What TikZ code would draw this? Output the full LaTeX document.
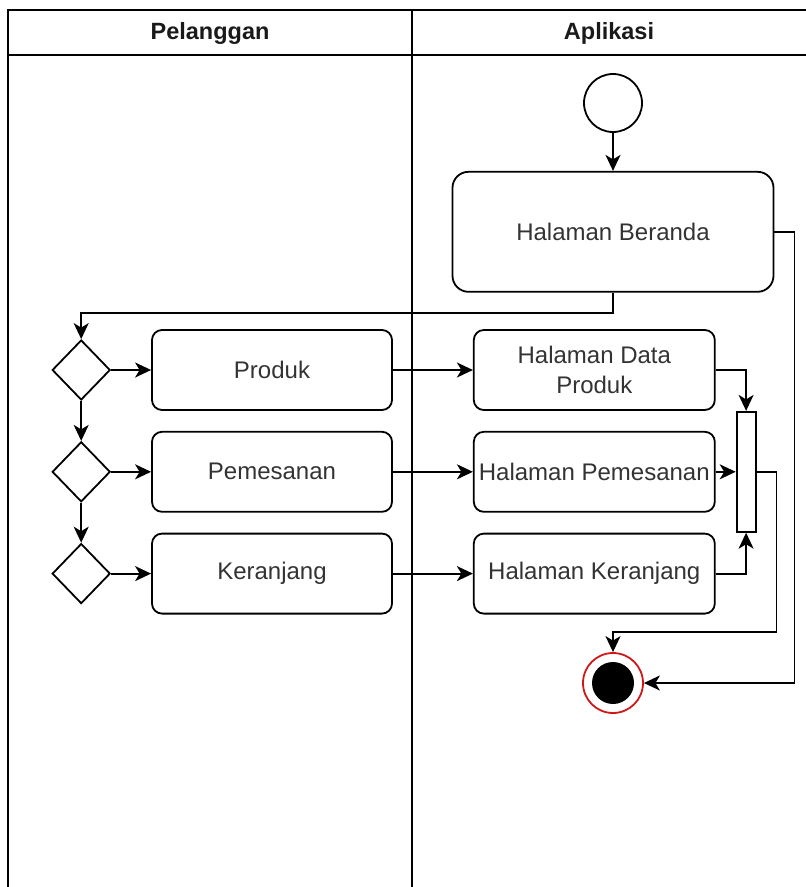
\documentclass[tikz,border=0pt]{standalone}
\usepackage{fontspec}
\setmainfont{Liberation Sans}
\usepackage{xcolor}
\definecolor{cLine}{HTML}{000000}
\definecolor{cText}{HTML}{333333}
\definecolor{cTitle}{HTML}{1A1A1A}
\definecolor{cEnd}{HTML}{D01818}
\usetikzlibrary{positioning,arrows.meta,shapes.geometric}
\tikzset{
  node-box/.style={draw=cLine,line width=1.8pt,rounded corners=10pt,
    minimum height=80pt,minimum width=240pt,align=center,text=cText,
    font=\fontsize{24}{30}\selectfont},
  node-page/.style={node-box,minimum width=241pt},
  node-big/.style={node-box,rounded corners=16pt,minimum width=321pt,
    minimum height=120pt},
  node-decision/.style={draw=cLine,line width=1.8pt,diamond,
    minimum width=58pt,minimum height=60pt,inner sep=0pt},
  node-start/.style={draw=cLine,line width=1.8pt,circle,minimum size=58pt,
    inner sep=0pt},
  node-end/.style={draw=cEnd,line width=1.8pt,circle,minimum size=60pt,
    inner sep=0pt,fill=white,
    path picture={\fill[black] (path picture bounding box.center) circle (21pt);}},
  node-bar/.style={draw=cLine,line width=1.8pt,fill=white,
    minimum width=19pt,minimum height=120pt,inner sep=0pt},
  lane/.style={draw=cLine,line width=1.8pt},
  lane-title/.style={text=cTitle,font=\bfseries\fontsize{23.5}{28}\selectfont},
  arrow/.style={-{Stealth[length=16pt,width=15pt,inset=4.5pt]},
    line width=1.8pt,draw=cLine},
}

\begin{document}
\begin{tikzpicture}[x=1pt,y=1pt,node distance=20pt and 80pt]
  \useasboundingbox (0,0) rectangle (806,-887);
  % swimlanes
  \draw[lane] (8,-887) -- (8,-10) -- (812,-10);
  \draw[lane] (8,-55) -- (812,-55);
  \draw[lane] (412,-10) -- (412,-887);
  \node[lane-title] (t-pelanggan) at (210,-33) {Pelanggan};
  \node[lane-title] (t-aplikasi) at (609,-33) {Aplikasi};

  \node[node-start] (start) at (613,-103) {};
  \node[node-big,below=38pt of start] (beranda) {Halaman Beranda};
  \node[node-box] (produk) at (272,-370) {Produk};
  \node[node-box,below=of produk] (pemesanan) {Pemesanan};
  \node[node-box,below=of pemesanan] (keranjang) {Keranjang};
  \node[node-page,right=of produk] (h-produk) {Halaman Data\\Produk};
  \node[node-page,right=of pemesanan] (h-pemesanan) {Halaman Pemesanan};
  \node[node-page,right=of keranjang] (h-keranjang) {Halaman Keranjang};
  \node[node-decision,left=40pt of produk] (cek1) {};
  \node[node-decision,left=40pt of pemesanan] (cek2) {};
  \node[node-decision,left=40pt of keranjang] (cek3) {};
  \node[node-bar,right=20pt of h-pemesanan] (join) {};
  \node[node-end] (end) at (613,-683) {};

  \draw[arrow] (start) -- (beranda);
  \draw[arrow] (beranda.south) -- ++(0,-20) -| (cek1.north);
  \draw[arrow] (cek1) -- (cek2);
  \draw[arrow] (cek2) -- (cek3);
  \draw[arrow] (cek1) -- (produk);
  \draw[arrow] (cek2) -- (pemesanan);
  \draw[arrow] (cek3) -- (keranjang);
  \draw[arrow] (produk) -- (h-produk);
  \draw[arrow] (pemesanan) -- (h-pemesanan);
  \draw[arrow] (keranjang) -- (h-keranjang);
  \draw[arrow] (h-produk.east) -| (join.north);
  \draw[arrow] (h-pemesanan) -- (join);
  \draw[arrow] (h-keranjang.east) -| (join.south);
  \draw[arrow] (join.east) -- ++(20,0) -- ++(0,-160) -| (end.north);
  \draw[arrow] (beranda.east) -- ++(20,0) |- (end.east);
\end{tikzpicture}
\end{document}
